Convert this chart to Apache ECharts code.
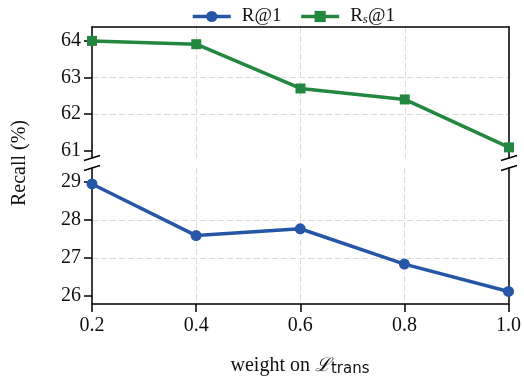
<!DOCTYPE html>
<html>
<head>
<meta charset="utf-8">
<script src="https://cdn.jsdelivr.net/npm/echarts@6/dist/echarts.min.js"></script>
<style>html,body{margin:0;padding:0;background:#fff}#chart{width:524px;height:379px}</style>
</head>
<body>
<div id="chart"></div>
<script>
// x: weight on L_trans
var weights = ['0.2', '0.4', '0.6', '0.8', '1.0'];
// bottom panel: R@1
var r1 = [28.95, 27.59, 27.77, 26.84, 26.12];
// top panel: Rs@1
var rs1 = [64.0, 63.91, 62.70, 62.40, 61.09];
var ticksTop = [61, 62, 63, 64];
var ticksBottom = [26, 27, 28, 29];

var BLUE = '#2656a6', GREEN = '#24873f';
var FONT = 'Liberation Serif';
var L = 92, R = 509, TOP0 = 27, BOT0 = 158, TOP1 = 168, BOT1 = 304;

var chart = echarts.init(document.getElementById('chart'));

var spine = { show: true, onZero: false, lineStyle: { color: '#000', width: 1.5 } };
var dashed = { show: true, lineStyle: { color: '#dcdcdc', type: [6, 3], width: 1 } };

function leftAxis(grid, min, max, ticks) {
  return {
    type: 'value', gridIndex: grid, position: 'left', min: min, max: max,
    minInterval: 1, maxInterval: 1,
    axisLine: spine,
    axisTick: { show: true, length: 8, customValues: ticks, lineStyle: { color: '#000', width: 1.5 } },
    axisLabel: { customValues: ticks, margin: 11, fontFamily: FONT, fontSize: 20, color: '#111' },
    splitLine: Object.assign({ showMinLine: false, showMaxLine: false }, dashed)
  };
}
function rightAxis(grid) {
  return {
    type: 'value', gridIndex: grid, position: 'right', min: 0, max: 1,
    axisLine: spine, axisTick: { show: false }, axisLabel: { show: false }, splitLine: { show: false }
  };
}

// break marks on the spines
var breaks = [];
[L, R].forEach(function (x) {
  [BOT0, TOP1].forEach(function (y) {
    breaks.push({
      type: 'line', z: 100,
      shape: { x1: x - 8, y1: y + 2.5, x2: x + 8, y2: y - 2.5 },
      style: { stroke: '#000', lineWidth: 1.5 }
    });
  });
});

chart.setOption({
  backgroundColor: '#fff',
  animation: false,
  legend: {
    left: 186, top: 2,
    itemWidth: 38, itemHeight: 14, itemGap: 18,
    data: ['R@1', 'Rs@1'],
    lineStyle: { width: 3.5 },
    formatter: function (name) {
      return name === 'Rs@1' ? '{a|R}{s|s}{a|@1}' : '{a|' + name + '}';
    },
    textStyle: {
      padding: [0, 0, 0, 6],
      rich: {
        a: { fontFamily: FONT, fontSize: 19, color: '#111' },
        s: { fontFamily: FONT, fontSize: 13, fontStyle: 'italic', color: '#111', padding: [7, 0, 0, 0] }
      }
    }
  },
  grid: [
    { left: L, right: 524 - R, top: TOP0, height: BOT0 - TOP0 },
    { left: L, right: 524 - R, top: TOP1, height: BOT1 - TOP1 }
  ],
  xAxis: [
    {
      type: 'category', gridIndex: 0, position: 'top', boundaryGap: false, data: weights,
      axisLine: spine, axisTick: { show: false }, axisLabel: { show: false },
      splitLine: Object.assign({ interval: 0 }, dashed)
    },
    {
      type: 'category', gridIndex: 1, position: 'bottom', boundaryGap: false, data: weights,
      axisLine: spine,
      axisTick: { show: true, length: 8, interval: 0, lineStyle: { color: '#000', width: 1.5 } },
      axisLabel: { interval: 0, margin: 12, fontFamily: FONT, fontSize: 20, color: '#111' },
      splitLine: Object.assign({ interval: 0 }, dashed)
    }
  ],
  yAxis: [
    leftAxis(0, 60.80, 64.38, ticksTop),
    rightAxis(0),
    leftAxis(1, 25.79, 29.37, ticksBottom),
    rightAxis(1)
  ],
  series: [
    {
      name: 'R@1', type: 'line', xAxisIndex: 1, yAxisIndex: 2, data: r1,
      symbol: 'circle', symbolSize: 11, clip: false,
      itemStyle: { color: BLUE }, lineStyle: { color: BLUE, width: 3.5 }
    },
    {
      name: 'Rs@1', type: 'line', xAxisIndex: 0, yAxisIndex: 0, data: rs1,
      symbol: 'rect', symbolSize: 10, clip: false,
      itemStyle: { color: GREEN }, lineStyle: { color: GREEN, width: 3.5 }
    }
  ],
  graphic: breaks.concat([
    {
      type: 'text', x: 20, y: 163, rotation: Math.PI / 2,
      style: { text: 'Recall (%)', font: '20px "Liberation Serif"', fill: '#111', align: 'center', verticalAlign: 'middle' }
    },
    {
      type: 'text', x: 300, y: 366,
      style: {
        text: '{a|weight on }{l|ℒ}{t|trans}', align: 'center', verticalAlign: 'middle',
        rich: {
          a: { fontFamily: FONT, fontSize: 20, fill: '#111' },
          l: { fontFamily: 'DejaVu Serif', fontStyle: 'italic', fontSize: 19, fill: '#111' },
          t: { fontFamily: 'DejaVu Sans', fontSize: 15, fill: '#111', padding: [6, 0, 0, 0] }
        }
      }
    }
  ])
});
</script>
</body>
</html>
